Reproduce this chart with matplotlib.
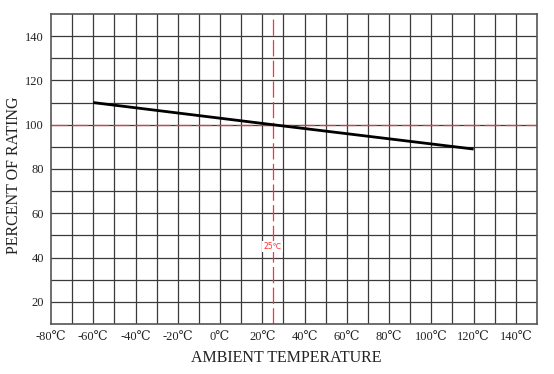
import numpy as np
import matplotlib
matplotlib.use("Agg")
import matplotlib.pyplot as plt

# derating curve
temp = [-60, 25, 120]
rating = [110, 100, 89]

x_ticks = [-80, -60, -40, -20, 0, 20, 40, 60, 80, 100, 120, 140]
x_labels = [f"{t}℃" for t in x_ticks]
y_ticks = [20, 40, 60, 80, 100, 120, 140]

serif = ["Liberation Serif", "DejaVu Serif"]

fig = plt.figure(figsize=(5.54, 3.74), dpi=100)
ax = fig.add_axes([51 / 554, 1 - 324 / 374, 486 / 554, 310 / 374])

ax.set_xlim(-80, 150)
ax.set_ylim(10, 150)

# grid every 10 units
for gx in np.arange(-70, 150, 10):
    ax.axvline(gx, color="#3a3a3a", lw=0.9, zorder=1)
for gy in np.arange(20, 150, 10):
    ax.axhline(gy, color="#3a3a3a", lw=0.9, zorder=1)

for s in ax.spines.values():
    s.set_color("#555555")
    s.set_linewidth(1.2)

# 25 C reference lines
ax.axhline(100, color="#ff3030", lw=0.9, ls=(0, (13, 3.5)), zorder=2)
ax.axvline(25, color="#ff3030", lw=0.9, ls=(0, (13, 3.5)), zorder=2)
ax.text(25, 45, "25℃", color="#ff3030", fontsize=5.5, ha="center", va="center",
        family=["DejaVu Sans"], zorder=3,
        bbox=dict(facecolor="white", edgecolor="none", pad=1))

ax.plot(temp, rating, color="black", lw=2, zorder=4, solid_capstyle="butt")

ax.set_xticks(x_ticks)
ax.set_xticklabels(x_labels, family=serif, fontsize=9, color="#222222")
ax.set_yticks(y_ticks)
ax.set_yticklabels([str(v) for v in y_ticks], family=serif, fontsize=9, color="#222222")
ax.tick_params(length=0, pad=5)

ax.set_xlabel("AMBIENT TEMPERATURE", family=serif, fontsize=11.5, color="#222222")
ax.set_ylabel("PERCENT OF RATING", family=serif, fontsize=11.5, color="#222222")
ax.xaxis.set_label_coords(0.4835, -0.085)
ax.yaxis.set_label_coords(-0.06, 0.48)

fig.savefig("out.png", dpi=100)
